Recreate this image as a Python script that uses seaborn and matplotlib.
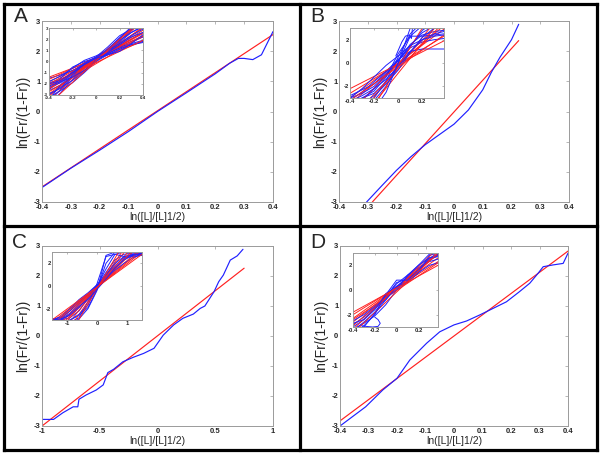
import matplotlib
matplotlib.use("Agg")
import matplotlib.pyplot as plt
from matplotlib.lines import Line2D
import seaborn as sns

# ---------------- data ----------------
# Panel A main
a_red_x = [-0.4, 0.4]
a_red_y = [-2.5, 2.55]
a_blue_x = [-0.4, -0.3, -0.2, -0.1, 0.0, 0.1, 0.2, 0.25, 0.28, 0.3, 0.33, 0.36, 0.4]
a_blue_y = [-2.52, -1.88, -1.28, -0.66, 0.0, 0.62, 1.25, 1.6, 1.76, 1.76, 1.72, 1.88, 2.65]
# Panel B main
b_red_x = [-0.284, 0.225]
b_red_y = [-3.0, 2.35]
b_blue_x = [-0.304, -0.25, -0.2, -0.15, -0.1, -0.05, 0.0, 0.05, 0.1, 0.13, 0.16, 0.2, 0.225]
b_blue_y = [-3.0, -2.45, -1.95, -1.5, -1.1, -0.76, -0.42, 0.05, 0.72, 1.3, 1.8, 2.38, 2.89]
# Panel C main
c_red_x = [-1.0, 0.75]
c_red_y = [-3.0, 2.26]
c_blue_x = [-0.99, -0.9, -0.82, -0.73, -0.69, -0.68, -0.62, -0.53, -0.47, -0.43, -0.38, -0.3,
            -0.21, -0.12, -0.03, 0.05, 0.14, 0.22, 0.31, 0.37, 0.41, 0.49, 0.53, 0.57, 0.63,
            0.69, 0.74]
c_blue_y = [-2.78, -2.78, -2.56, -2.36, -2.36, -2.11, -1.97, -1.8, -1.63, -1.22, -1.11, -0.86,
            -0.71, -0.58, -0.41, 0.03, 0.37, 0.59, 0.73, 0.92, 1.0, 1.48, 1.81, 2.03, 2.53,
            2.67, 2.89]
# Panel D main
d_red_x = [-0.4, 0.4]
d_red_y = [-2.83, 2.83]
d_blue_x = [-0.4, -0.31, -0.25, -0.2, -0.155, -0.096, -0.05, 0.0, 0.044, 0.09, 0.137, 0.184,
            0.23, 0.266, 0.295, 0.313, 0.348, 0.383, 0.4]
d_blue_y = [-3.0, -2.36, -1.8, -1.41, -0.8, -0.24, 0.14, 0.37, 0.5, 0.7, 0.92, 1.14, 1.48,
            1.76, 2.09, 2.31, 2.37, 2.42, 2.76]

# Insets: red fitted lines (y at left / right x), blue curves on a shared x grid
ia_red_x = [-0.4, 0.4]
ia_red = [(-1.4, 1.8), (-1.8, 2.2), (-2.2, 2.6), (-2.5, 2.8), (-2.9, 3.1), (-3.4, 3.6),
          (-2.0, 2.5), (-1.6, 2.3), (-2.4, 3.0), (-3.1, 3.7), (-2.7, 2.3), (-2.1, 1.9),
          (-3.8, 3.9)]
ia_blue_x = [-0.4, -0.3, -0.2, -0.1, 0.0, 0.1, 0.2, 0.3, 0.4]
ia_blue = [[-3.6, -2.5, -1.4, -0.5, 0.2, 0.9, 1.8, 2.8, 3.6],
           [-2.6, -2.1, -1.3, -0.4, 0.2, 0.8, 1.4, 2.0, 2.6],
           [-1.9, -1.6, -1.1, -0.5, 0.1, 0.7, 1.3, 1.8, 2.2],
           [-3.8, -2.8, -1.6, -0.6, 0.3, 1.1, 2.1, 3.0, 3.6],
           [-2.3, -1.9, -0.9, -0.1, 0.4, 0.9, 1.3, 1.6, 1.9],
           [-1.5, -1.2, -0.8, -0.3, 0.2, 0.7, 1.2, 1.5, 1.7],
           [-3.0, -2.3, -1.7, -0.9, 0.1, 1.0, 1.9, 2.6, 3.2],
           [-2.5, -1.5, -0.5, 0.0, 0.3, 0.8, 1.7, 2.6, 3.1],
           [-3.2, -2.6, -1.9, -1.0, 0.0, 0.8, 1.5, 2.2, 2.6],
           [-1.8, -1.3, -0.6, 0.1, 0.5, 1.0, 1.6, 2.3, 2.9],
           [-3.4, -2.1, -1.0, -0.3, 0.3, 1.1, 2.1, 3.1, 3.6],
           [-2.2, -1.8, -1.4, -0.8, 0.0, 0.6, 1.1, 1.5, 1.8],
           [-2.9, -2.4, -1.2, -0.2, 0.4, 1.3, 2.3, 2.9, 3.2],
           [-2.0, -1.7, -1.0, -0.2, 0.3, 0.6, 0.9, 1.6, 2.4]]

ib_red_x = [-0.4, 0.38]
ib_red = [(-2.6, 2.3), (-3.0, 2.9), (-3.5, 3.2), (-4.2, 3.8), (-5.5, 4.5), (-7.0, 6.0),
          (-2.2, 1.9), (-4.8, 3.5), (-6.0, 4.0), (-3.2, 2.4)]
ib_blue_x = [-0.4, -0.3, -0.2, -0.1, 0.0, 0.1, 0.2, 0.3, 0.38]
ib_blue = [[-4.0, -3.2, -2.2, -1.0, 0.2, 1.5, 2.6, 3.2, 3.4],
           [-3.5, -3.0, -2.6, -1.6, -0.2, 1.4, 2.8, 3.5, 3.6],
           [-3.2, -2.5, -1.6, -0.7, 0.3, 1.3, 1.8, 2.0, 2.1],
           [-5.0, -4.0, -3.0, -1.5, 0.5, 2.5, 3.5, 3.6, 3.6],
           [-3.0, -2.6, -2.0, -1.0, 0.3, 1.0, 1.2, 1.2, 1.2],
           [-4.5, -3.8, -3.2, -2.0, 0.0, 2.3, 3.2, 3.4, 3.5],
           [-2.8, -2.3, -1.8, -0.8, 0.2, 1.6, 2.4, 2.7, 2.8],
           [-3.6, -3.0, -2.4, -1.2, 0.8, 2.3, 2.3, 2.4, 2.5],
           [-3.3, -2.8, -2.2, -1.4, -0.3, 1.0, 2.0, 2.5, 2.7],
           [-4.0, -3.5, -2.8, -1.8, -0.6, 0.9, 2.2, 3.0, 3.2],
           [-3.0, -2.2, -1.2, -0.2, 0.6, 1.5, 2.0, 2.3, 2.4],
           [-6.0, -5.0, -4.0, -2.5, 0.0, 3.0, 3.5, 3.5, 3.5]]
ib_bump_x = [-0.02, 0.03, 0.06, 0.09, 0.11, 0.12]
ib_bump_y = [0.6, 1.8, 2.3, 2.4, 2.1, 3.2]

ic_red_x = [-1.5, 1.5]
ic_red = [(-3.2, 3.0), (-3.6, 3.4), (-4.0, 3.8), (-4.6, 4.4), (-5.2, 5.0), (-6.0, 5.6),
          (-3.4, 3.2), (-4.3, 4.0), (-7.0, 6.5), (-3.0, 2.8)]
ic_blue_x = [-1.5, -1.2, -0.9, -0.6, -0.3, 0.0, 0.3, 0.6, 0.9, 1.2, 1.5]
ic_blue = [[-3.0, -2.9, -2.4, -1.6, -0.8, 0.0, 0.8, 1.6, 2.4, 2.8, 2.9],
           [-3.1, -3.0, -2.8, -2.2, -1.1, 0.0, 1.2, 2.3, 2.8, 2.9, 2.9],
           [-3.5, -3.4, -3.2, -2.8, -1.4, 0.0, 1.5, 2.8, 3.0, 3.0, 3.0],
           [-2.9, -2.8, -2.2, -1.4, -0.7, 0.1, 0.9, 1.8, 2.5, 2.6, 2.7],
           [-3.3, -3.2, -3.0, -2.6, -1.9, -0.3, 2.0, 3.0, 3.0, 3.0, 3.0],
           [-3.0, -2.7, -2.0, -1.2, -0.6, 0.1, 0.7, 1.4, 2.0, 2.5, 2.8],
           [-3.4, -3.3, -3.0, -2.5, -1.7, 0.2, 2.6, 2.8, 2.6, 2.7, 2.9],
           [-3.0, -2.9, -2.6, -1.9, -1.0, 0.0, 1.0, 2.0, 2.6, 2.8, 2.8],
           [-3.5, -3.5, -3.4, -2.9, -2.0, -0.4, 2.7, 3.0, 3.0, 3.0, 3.0],
           [-3.2, -3.0, -2.5, -1.8, -1.2, -0.3, 0.6, 1.6, 2.3, 2.7, 2.8]]

id_red_x = [-0.4, 0.38]
id_red = [(-2.0, 2.3), (-2.3, 2.6), (-2.6, 2.9), (-2.9, 3.1), (-3.2, 3.4), (-2.4, 2.2),
          (-3.5, 3.0), (-1.8, 2.0)]
id_blue_x = [-0.4, -0.3, -0.2, -0.1, 0.0, 0.1, 0.2, 0.3, 0.38]
id_blue = [[-3.0, -2.4, -1.5, -0.5, 0.5, 1.2, 1.8, 2.4, 2.8],
           [-3.3, -2.6, -1.8, -0.6, 0.6, 0.9, 1.5, 2.5, 2.8],
           [-2.8, -2.2, -1.4, -0.8, 0.3, 1.0, 1.7, 2.3, 2.5],
           [-3.5, -2.9, -2.0, -0.3, 0.3, 0.6, 1.4, 2.8, 3.0],
           [-2.5, -2.0, -1.3, -0.6, 0.0, 0.7, 1.4, 2.0, 2.2],
           [-3.2, -2.7, -2.1, -1.2, 0.0, 1.2, 2.0, 2.6, 2.9],
           [-2.7, -2.4, -1.6, -0.4, 0.8, 0.8, 1.6, 2.6, 2.7],
           [-3.6, -3.0, -1.9, -0.8, 0.2, 1.1, 2.0, 2.9, 3.1]]
id_loop_x = [-0.2, -0.17, -0.15, -0.17, -0.22, -0.28, -0.32]
id_loop_y = [-2.2, -2.4, -2.7, -2.95, -3.0, -2.95, -2.9]

main_xticks_a = [-0.4, -0.3, -0.2, -0.1, 0, 0.1, 0.2, 0.3, 0.4]
main_xlabels_a = ["-0.4", "-0.3", "-0.2", "-0.1", "0", "0.1", "0.2", "0.3", "0.4"]
main_xticks_c = [-1, -0.5, 0, 0.5, 1]
main_xlabels_c = ["-1", "-0.5", "0", "0.5", "1"]
main_yticks = [-3, -2, -1, 0, 1, 2, 3]
panel_letters = ["A", "B", "C", "D"]

# ---------------- style ----------------
sns.set_style("white")
plt.rcParams["font.family"] = ["Liberation Sans", "DejaVu Sans"]
GRAY = "#9a9a9a"
RED = "#ff2020"
BLUE = "#2020ff"

W, H = 600, 454
fig = plt.figure(figsize=(6, 4.54), dpi=100)


def rect(x0, y0, x1, y1):
    return [x0 / W, 1 - y1 / H, (x1 - x0) / W, (y1 - y0) / H]


def line(ax, x, y, color, lw=0.9, alpha=1.0):
    sns.lineplot(x=x, y=y, ax=ax, color=color, lw=lw, alpha=alpha, sort=False,
                 estimator=None)


def style(ax, xlim, xticks, xlabels, yticks, ylabels, size, ticklen):
    ax.set_xlim(*xlim)
    ax.set_ylim(-3, 3)
    ax.set_xticks(xticks)
    ax.set_xticklabels(xlabels)
    ax.set_yticks(yticks)
    ax.set_yticklabels(ylabels)
    ax.tick_params(direction="in", length=ticklen, width=0.5, color=GRAY,
                   labelsize=size, pad=1.2, top=True, right=True,
                   labeltop=False, labelright=False)
    for lab in ax.get_xticklabels() + ax.get_yticklabels():
        lab.set_fontweight("bold")
    for s in ax.spines.values():
        s.set_color(GRAY)
        s.set_linewidth(0.7)
    ax.set_xlabel("")
    ax.set_ylabel("")


main_rects = [rect(42, 21, 273, 202), rect(339, 21, 569, 202),
              rect(42, 246, 273, 426), rect(340, 246, 568, 426)]
inset_rects = [rect(49, 28, 143, 95), rect(350, 28, 444, 98),
               rect(52, 252, 142, 320), rect(353, 253, 438, 327)]

mains = [(a_red_x, a_red_y, a_blue_x, a_blue_y, (-0.4, 0.4), main_xticks_a, main_xlabels_a),
         (b_red_x, b_red_y, b_blue_x, b_blue_y, (-0.4, 0.4), main_xticks_a, main_xlabels_a),
         (c_red_x, c_red_y, c_blue_x, c_blue_y, (-1, 1), main_xticks_c, main_xlabels_c),
         (d_red_x, d_red_y, d_blue_x, d_blue_y, (-0.4, 0.4), main_xticks_a, main_xlabels_a)]

for r, (rx, ry, bx, by, xlim, xt, xl) in zip(main_rects, mains):
    ax = fig.add_axes(r)
    line(ax, rx, ry, RED, 0.85)
    line(ax, bx, by, BLUE, 0.85)
    style(ax, xlim, xt, xl, main_yticks, [str(v) for v in main_yticks], 5.5, 2)
    ax.set_xlabel("ln([L]/[L]1/2)", fontsize=7.5, labelpad=1)
    ax.set_ylabel("ln(Fr/(1-Fr))", fontsize=10, labelpad=2.5)

insets = [
    (ia_red_x, ia_red, ia_blue_x, ia_blue, (-0.4, 0.4),
     [-0.4, -0.2, 0, 0.2, 0.4], ["-0.4", "-0.2", "0", "0.2", "0.4"],
     [-3, -2, -1, 0, 1, 2, 3], ["-3", "-2", "-1", "0", "1", "2", "3"], 3.2),
    (ib_red_x, ib_red, ib_blue_x, ib_blue, (-0.4, 0.38),
     [-0.4, -0.2, 0, 0.2], ["-0.4", "-0.2", "0", "0.2"],
     [-2, 0, 2], ["-2", "0", "2"], 4.2),
    (ic_red_x, ic_red, ic_blue_x, ic_blue, (-1.5, 1.5),
     [-1, 0, 1], ["-1", "0", "1"],
     [-2, 0, 2], ["-2", "0", "2"], 4.2),
    (id_red_x, id_red, id_blue_x, id_blue, (-0.4, 0.38),
     [-0.4, -0.2, 0, 0.2], ["-0.4", "-0.2", "0", "0.2"],
     [-2, 0, 2], ["-2", "0", "2"], 4.2),
]

for i, (r, (rx, reds, bx, blues, xlim, xt, xl, yt, yl, fs)) in enumerate(zip(inset_rects, insets)):
    ax = fig.add_axes(r)
    ax.set_facecolor("white")
    for k in range(max(len(reds), len(blues))):
        if k < len(blues):
            line(ax, bx, blues[k], BLUE, 0.7)
        if k < len(reds):
            line(ax, rx, list(reds[k]), RED, 0.7)
    if i == 1:
        line(ax, ib_bump_x, ib_bump_y, BLUE, 0.7)
    if i == 3:
        line(ax, id_loop_x, id_loop_y, BLUE, 0.7)
    style(ax, xlim, xt, xl, yt, yl, fs, 1.2)
    ax.tick_params(pad=0.8)

# panel letters
letter_pos = [(14, 17), (310, 17), (12, 242), (310, 242)]
for (px, py), lab in zip(letter_pos, panel_letters):
    fig.text(px / W, 1 - py / H, lab, fontsize=15, va="center", ha="left")

# panel borders
lw = 2.3
segs = [((4, 4), (597, 4)), ((4, 450), (597, 450)), ((4, 4), (4, 450)), ((597, 4), (597, 450)),
        ((300, 4), (300, 450)), ((4, 226), (597, 226))]
for (x0, y0), (x1, y1) in segs:
    fig.add_artist(Line2D([x0 / W, x1 / W], [1 - y0 / H, 1 - y1 / H], color="black",
                          lw=lw, transform=fig.transFigure, solid_capstyle="projecting"))

fig.savefig("out.png", dpi=100, facecolor="white")
